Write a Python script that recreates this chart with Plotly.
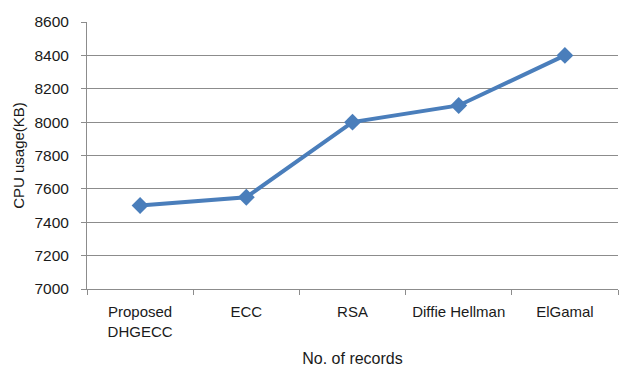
import plotly.graph_objects as go

# CPU usage per encryption scheme
schemes = ["Proposed<br>DHGECC", "ECC", "RSA", "Diffie Hellman", "ElGamal"]
cpu_usage_kb = [7500, 7550, 8000, 8100, 8400]
y_ticks = [7000, 7200, 7400, 7600, 7800, 8000, 8200, 8400, 8600]

font_family = "Liberation Sans, Arial, sans-serif"
text_color = "#1a1a1a"
grid_color = "#8c8c8c"
series_color = "#4A7EBB"

fig = go.Figure(
    go.Scatter(
        x=schemes,
        y=cpu_usage_kb,
        mode="lines+markers",
        line=dict(color=series_color, width=4),
        marker=dict(symbol="diamond", size=13, color=series_color),
        showlegend=False,
    )
)

fig.update_layout(
    width=620,
    height=371,
    margin=dict(l=87, r=2, t=22, b=82),
    paper_bgcolor="white",
    plot_bgcolor="white",
    font=dict(family=font_family, size=15, color=text_color),
)

fig.update_xaxes(
    type="category",
    tickson="boundaries",
    ticks="outside",
    ticklen=5,
    tickcolor=grid_color,
    showline=True,
    linecolor=grid_color,
    linewidth=1,
    showgrid=False,
    tickfont=dict(size=15, color=text_color),
    ticklabelstandoff=9,
    title=dict(text="No. of records", font=dict(size=16, color=text_color), standoff=14),
    range=[-0.5, 4.5],
)

fig.update_yaxes(
    range=[7000, 8600],
    tickvals=y_ticks,
    ticks="outside",
    ticklen=5,
    tickcolor=grid_color,
    showline=True,
    linecolor=grid_color,
    linewidth=1,
    showgrid=True,
    gridcolor=grid_color,
    gridwidth=1,
    zeroline=False,
    tickfont=dict(size=15.5, color=text_color),
    ticklabelstandoff=9,
    title=dict(text="CPU usage(KB)", font=dict(size=15, color=text_color), standoff=6),
)

fig.write_html("out.html")
